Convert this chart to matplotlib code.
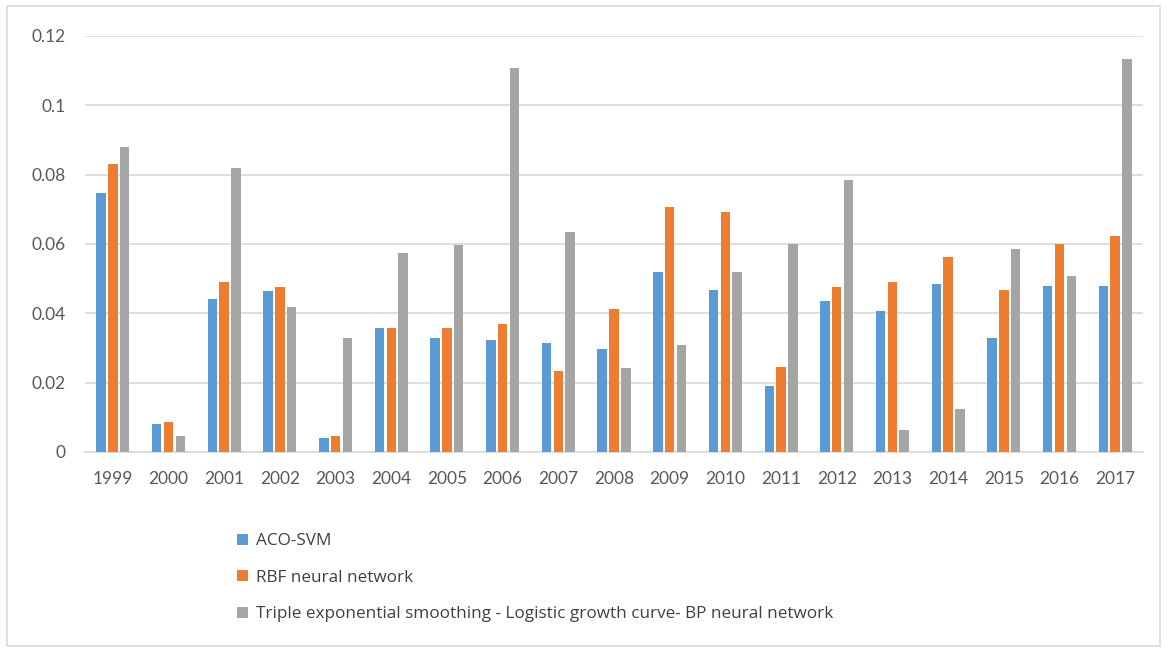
import numpy as np
import matplotlib.pyplot as plt
from matplotlib.patches import Rectangle

years = [str(y) for y in range(1999, 2018)]

aco_svm = [0.0747, 0.0080, 0.0441, 0.0463, 0.0041, 0.0358, 0.0330, 0.0324, 0.0313, 0.0297,
           0.0518, 0.0468, 0.0191, 0.0436, 0.0408, 0.0486, 0.0330, 0.0480, 0.0480]
rbf_nn = [0.0831, 0.0086, 0.0491, 0.0475, 0.0047, 0.0358, 0.0358, 0.0369, 0.0235, 0.0413,
          0.0708, 0.0691, 0.0246, 0.0475, 0.0491, 0.0563, 0.0468, 0.0601, 0.0624]
tes_lgc_bp = [0.0880, 0.0047, 0.0818, 0.0419, 0.0330, 0.0574, 0.0597, 0.1108, 0.0635, 0.0241,
              0.0308, 0.0518, 0.0601, 0.0785, 0.0063, 0.0124, 0.0586, 0.0508, 0.1135]

labels = ['ACO-SVM', 'RBF neural network',
          'Triple exponential smoothing - Logistic growth curve- BP neural network']
colors = ['#5B9BD5', '#ED7D31', '#A5A5A5']

plt.rcParams['font.family'] = ['Lato', 'DejaVu Sans']

fig = plt.figure(figsize=(11.68, 6.5), dpi=100)
ax = fig.add_axes([85/1168, 1 - 452/650, (1143 - 85)/1168, (452 - 36)/650])

x = np.arange(len(years))
width = 0.17
step = 0.212
for i, (vals, lab, col) in enumerate(zip([aco_svm, rbf_nn, tes_lgc_bp], labels, colors)):
    ax.bar(x + (i - 1)*step, vals, width, color=col, label=lab, zorder=3)

ax.set_xlim(-0.5, len(years) - 0.5)
ax.set_ylim(0, 0.12)
ax.set_yticks([0, 0.02, 0.04, 0.06, 0.08, 0.1, 0.12])
ax.set_yticklabels(['0', '0.02', '0.04', '0.06', '0.08', '0.1', '0.12'])
ax.set_xticks(x)
ax.set_xticklabels(years)
ax.tick_params(length=0, labelsize=12.5, colors='#595959')
ax.tick_params(axis='y', pad=14)
ax.tick_params(axis='x', pad=14)
ax.grid(axis='y', color='#D9D9D9', linewidth=1.2, zorder=0)
for s in ['top', 'right', 'left']:
    ax.spines[s].set_visible(False)
ax.spines['bottom'].set_color('#D9D9D9')
ax.spines['bottom'].set_linewidth(1.2)

leg = fig.legend(loc='upper left', bbox_to_anchor=(222/1168, 1 - 518/650), frameon=False,
                 prop={'family': ['Open Sans', 'DejaVu Sans'], 'size': 12.3},
                 labelspacing=1.2, handlelength=0.6, handleheight=0.6,
                 handletextpad=0.5)
for t in leg.get_texts():
    t.set_color('#404040')

# light frame around the whole chart
fig.patches.append(Rectangle((7/1168, 4/650), 1153/1168, 640/650, transform=fig.transFigure,
                             fill=False, edgecolor='#D9D9D9', linewidth=1.2))

plt.savefig('out.png', dpi=100)
